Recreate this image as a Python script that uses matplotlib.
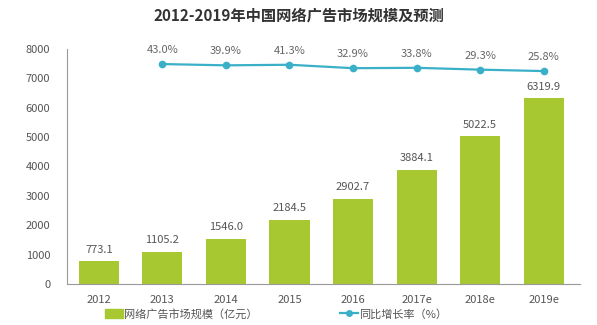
import numpy as np
import matplotlib.pyplot as plt
from matplotlib.patches import Patch
from matplotlib.lines import Line2D

plt.rcParams['font.family'] = ['Noto Sans CJK SC', 'DejaVu Sans']

# ---------------- data ----------------
years = ['2012', '2013', '2014', '2015', '2016', '2017e', '2018e', '2019e']
market_size = [773.1, 1105.2, 1546.0, 2184.5, 2902.7, 3884.1, 5022.5, 6319.9]
growth_years = years[1:]
growth_rate = [43.0, 39.9, 41.3, 32.9, 33.8, 29.3, 25.8]

BAR_COLOR = '#a8c832'
LINE_COLOR = '#3ab0c8'
TEXT_COLOR = '#555555'

fig = plt.figure(figsize=(5.97, 3.25), dpi=100)
ax = fig.add_axes([67 / 597, 41 / 325, 513 / 597, 235 / 325])

x = np.arange(len(years))
ax.bar(x, market_size, width=0.63, color=BAR_COLOR, zorder=2)
for xi, v in zip(x, market_size):
    ax.text(xi, v + 230, f'{v:.1f}', ha='center', va='bottom',
            fontsize=8, color=TEXT_COLOR)

ax.set_xlim(-0.5, len(years) - 0.43)
ax.set_ylim(0, 8000)
ax.set_yticks(range(0, 8001, 1000))
ax.set_xticks(x)
ax.set_xticklabels(years)
ax.tick_params(axis='both', length=0, labelsize=8, colors=TEXT_COLOR)
ax.tick_params(axis='y', pad=12)
ax.tick_params(axis='x', pad=8)
for s in ('top', 'right'):
    ax.spines[s].set_visible(False)
for s in ('left', 'bottom'):
    ax.spines[s].set_color('#999999')
    ax.spines[s].set_linewidth(0.8)

# growth rate on a hidden second axis
ax2 = ax.twinx()
gx = x[1:]
ax2.plot(gx, growth_rate, color=LINE_COLOR, linewidth=1.6, marker='o',
         markersize=4.5, zorder=3)
for xi, v in zip(gx, growth_rate):
    ax2.text(xi, v + 22, f'{v:.1f}%', ha='center', va='bottom',
             fontsize=8, color='#666666')
ax2.set_ylim(-497, 80)
ax2.axis('off')

fig.text(0.5, 1 - 15 / 325, '2012-2019年中国网络广告市场规模及预测', ha='center',
         va='center', fontsize=11, fontweight='bold', color='#333333')

# legend
fig.legend(handles=[Patch(color=BAR_COLOR)], labels=['网络广告市场规模（亿元）'],
           loc='center left', bbox_to_anchor=(95 / 597, 1 - 314 / 325),
           frameon=False, fontsize=8, labelcolor=TEXT_COLOR,
           handlelength=1.6, handleheight=0.8, handletextpad=0.1)
fig.legend(handles=[Line2D([], [], color=LINE_COLOR, marker='o', markersize=4,
                           linewidth=1.6)],
           labels=['同比增长率（%）'],
           loc='center left', bbox_to_anchor=(330 / 597, 1 - 314 / 325),
           frameon=False, fontsize=8, labelcolor=TEXT_COLOR,
           handlelength=1.6, handletextpad=0.1)

fig.savefig('out.png', dpi=100)
